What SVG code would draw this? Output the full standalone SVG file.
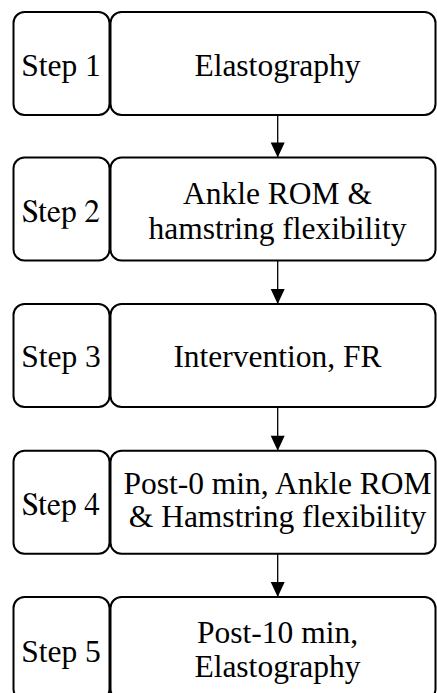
<svg xmlns="http://www.w3.org/2000/svg" width="437" height="693" viewBox="0 0 437 693">
<style>
.box{fill:#fff;stroke:#000;stroke-width:2}
.t{font-size:31.5px;fill:#000;text-anchor:middle}
.c{stroke:#000;stroke-width:1.3;fill:none}
</style>
<g id="connectors">
<line class="c" x1="277.7" y1="115" x2="277.7" y2="157.5"/>
<path d="M270.7,142.5 L284.7,142.5 L277.7,157.5 Z"/>
<line class="c" x1="277.7" y1="260.5" x2="277.7" y2="304"/>
<path d="M270.7,289 L284.7,289 L277.7,304 Z"/>
<line class="c" x1="277.7" y1="407" x2="277.7" y2="450.7"/>
<path d="M270.7,435.7 L284.7,435.7 L277.7,450.7 Z"/>
<line class="c" x1="277.7" y1="553.7" x2="277.7" y2="597"/>
<path d="M270.7,582 L284.7,582 L277.7,597 Z"/>
</g>
<g id="step1">
<rect class="box" x="13.5" y="12" width="96" height="103" rx="11"/>
<text class="t" x="61" y="76" style="font-family:'Tinos','Liberation Serif',serif">Step 1</text>
</g>
<g id="node1">
<rect class="box" x="110.5" y="12" width="325" height="103" rx="11"/>
<text class="t" x="277.5" y="76" style="font-family:'Times New Roman','Liberation Serif',serif">Elastography</text>
</g>
<g id="step2">
<rect class="box" x="13.5" y="157.5" width="96" height="103" rx="11"/>
<text class="t" x="61" y="221.5" style="font-family:'FreeSerif','Liberation Serif',serif">Step 2</text>
</g>
<g id="node2">
<rect class="box" x="110.5" y="157.5" width="325" height="103" rx="11"/>
<text class="t" x="277.5" y="204" style="font-family:'Liberation Serif','Times New Roman',serif">Ankle ROM &amp;</text>
<text class="t" x="277.5" y="239" style="font-family:'Times','Liberation Serif',serif">hamstring flexibility</text>
</g>
<g id="step3">
<rect class="box" x="13.5" y="304" width="96" height="103" rx="11"/>
<text class="t" x="61" y="367" style="font-family:'Tinos','Liberation Serif',serif">Step 3</text>
</g>
<g id="node3">
<rect class="box" x="110.5" y="304" width="325" height="103" rx="11"/>
<text class="t" x="277.5" y="367" style="font-family:'Times New Roman','Liberation Serif',serif">Intervention, FR</text>
</g>
<g id="step4">
<rect class="box" x="13.5" y="450.7" width="96" height="103" rx="11"/>
<text class="t" x="61" y="515" style="font-family:'FreeSerif','Liberation Serif',serif">Step 4</text>
</g>
<g id="node4">
<rect class="box" x="110.5" y="450.7" width="325" height="103" rx="11"/>
<text class="t" x="277.5" y="494" style="font-family:'Liberation Serif','Times New Roman',serif">Post-0 min, Ankle ROM</text>
<text class="t" x="277.5" y="527" style="font-family:'Times','Liberation Serif',serif">&amp; Hamstring flexibility</text>
</g>
<g id="step5">
<rect class="box" x="13.5" y="597" width="96" height="103" rx="11"/>
<text class="t" x="61" y="662" style="font-family:'Tinos','Liberation Serif',serif">Step 5</text>
</g>
<g id="node5">
<rect class="box" x="110.5" y="597" width="325" height="103" rx="11"/>
<text class="t" x="277.5" y="643" style="font-family:'Times New Roman','Liberation Serif',serif">Post-10 min,</text>
<text class="t" x="277.5" y="677" style="font-family:'Liberation Serif','Times New Roman',serif">Elastography</text>
</g>
</svg>
